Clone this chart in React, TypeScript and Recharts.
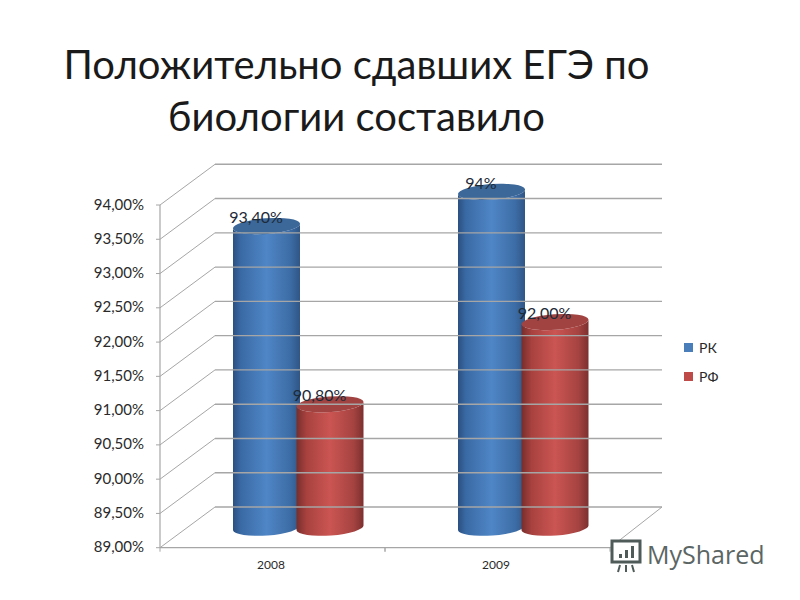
import { BarChart, Bar, XAxis, YAxis, Legend, LabelList } from 'recharts';

const FONT = 'Lato, "Open Sans", "Noto Sans", sans-serif';

const years = ['2008', '2009'];
const rkValues = [93.4, 93.9];
const rfValues = [90.8, 92];
const rkLabels = ['93,40%', '94%'];
const rfLabels = ['90,80%', '92,00%'];
const yTicks = [89, 89.5, 90, 90.5, 91, 91.5, 92, 92.5, 93, 93.5, 94];

const data = years.map((year, i) => ({
  year,
  rk: rkValues[i],
  rf: rfValues[i],
  rkLabel: rkLabels[i],
  rfLabel: rfLabels[i],
}));

// the fake 3D box: how far the back wall sits from the front axes
const DEPTH_X = 55;
const DEPTH_Y = 40.7;
const GRID = '#a6a6a6';
const AXIS_X = 160;
const AXIS_Y = 547.7;
const BAND = 225;

const formatTick = (v: number) => v.toFixed(2).replace('.', ',') + '%';

const YTick = ({ y, payload }: any) => (
  <g>
    <line x1={AXIS_X} y1={y} x2={AXIS_X + DEPTH_X} y2={y - DEPTH_Y} stroke={GRID} strokeWidth={1} />
    <line x1={AXIS_X + DEPTH_X} y1={y - DEPTH_Y} x2={662} y2={y - DEPTH_Y} stroke={GRID} strokeWidth={1.4} />
    <line x1={AXIS_X - 4} y1={y} x2={AXIS_X} y2={y} stroke={GRID} />
    <text x={144} y={y + 4.5} textAnchor="end" fontSize={15} fontFamily={FONT} fill="#2a2a2a">
      {formatTick(payload.value)}
    </text>
  </g>
);

const XTick = ({ payload, index }: any) => {
  const cx = payload.coordinate;
  return (
    <g>
      <line x1={cx - BAND / 2} y1={AXIS_Y} x2={cx - BAND / 2} y2={AXIS_Y + 4} stroke={GRID} />
      <line x1={cx + BAND / 2} y1={AXIS_Y} x2={cx + BAND / 2} y2={AXIS_Y + 4} stroke={GRID} />
      {index === years.length - 1 && (
        <line x1={cx + BAND / 2} y1={AXIS_Y} x2={662} y2={AXIS_Y - DEPTH_Y} stroke={GRID} />
      )}
      <text x={cx - 1.5} y={568.5} textAnchor="middle" fontSize={12} fontFamily={FONT} fill="#2a2a2a">
        {payload.value}
      </text>
    </g>
  );
};

const Cylinder = ({ x, y, width, height, gradient, topColor }: any) => {
  const left = x + 26;
  const right = left + width;
  const rx = width / 2;
  const ry = 7.8;
  const tilt = 2.5;
  const top = y - 20;
  const bottom = y + height - 20;
  const rot = -4;
  const body =
    `M${left},${top + tilt} L${left},${bottom + tilt} ` +
    `A${rx},${ry} ${rot} 0 0 ${right},${bottom - tilt} ` +
    `L${right},${top - tilt} A${rx},${ry} ${rot} 0 1 ${left},${top + tilt} Z`;
  const cap =
    `M${left},${top + tilt} A${rx},${ry} ${rot} 1 1 ${right},${top - tilt} ` +
    `A${rx},${ry} ${rot} 1 1 ${left},${top + tilt} Z`;
  return (
    <g>
      <path d={body} fill={`url(#${gradient})`} />
      <path d={cap} fill={topColor} />
    </g>
  );
};

const BarLabel = ({ x, y, value }: any) => (
  <text x={x + 49} y={y - 23} textAnchor="middle" fontSize={16} fontFamily={FONT} fill="#1d2a38">
    {value}
  </text>
);

const LegendBox = () => (
  <div style={{ fontFamily: FONT, fontSize: 14, color: '#2a2a2a' }}>
    {[
      { name: 'РК', color: '#4a7ebb' },
      { name: 'РФ', color: '#be4b48' },
    ].map((item) => (
      <div key={item.name} style={{ display: 'flex', alignItems: 'center', height: 29 }}>
        <div style={{ width: 9, height: 9, marginRight: 6, backgroundColor: item.color }}></div>
        <span>{item.name}</span>
      </div>
    ))}
  </div>
);

const App = () => {
  return (
    <div style={{ position: 'absolute', left: 0, top: 0, width: 800, height: 600, background: '#fff', overflow: 'hidden' }}>
      <div
        style={{
          position: 'absolute',
          left: 0,
          width: 713,
          top: 38,
          textAlign: 'center',
          fontFamily: FONT,
          fontSize: 40,
          lineHeight: '52px',
          color: '#1a1a1a',
        }}
      >
        Положительно сдавших ЕГЭ по
        <br />
        биологии составило
      </div>
      <BarChart
        width={800}
        height={600}
        data={data}
        barSize={67}
        barGap={-3.5}
        margin={{ top: 205, right: 190, bottom: 0, left: 0 }}
      >
        <defs>
          <linearGradient id="blueBody" x1="0" y1="0" x2="1" y2="0">
            <stop offset="0" stopColor="#2b5080" />
            <stop offset="0.12" stopColor="#3a6aa5" />
            <stop offset="0.5" stopColor="#4f86c6" />
            <stop offset="0.85" stopColor="#3d6da6" />
            <stop offset="1" stopColor="#2f5686" />
          </linearGradient>
          <linearGradient id="redBody" x1="0" y1="0" x2="1" y2="0">
            <stop offset="0" stopColor="#772e2c" />
            <stop offset="0.15" stopColor="#a8423f" />
            <stop offset="0.5" stopColor="#cb5552" />
            <stop offset="0.85" stopColor="#a54341" />
            <stop offset="1" stopColor="#7c302e" />
          </linearGradient>
        </defs>
        <XAxis
          dataKey="year"
          height={52.3}
          tickLine={false}
          axisLine={{ stroke: GRID, strokeWidth: 1.2 }}
          tick={<XTick />}
          interval={0}
        />
        <YAxis
          width={160}
          domain={[89, 94]}
          ticks={yTicks}
          interval={0}
          tickLine={false}
          axisLine={{ stroke: GRID, strokeWidth: 1.2 }}
          tick={<YTick />}
        />
        <Legend
          layout="vertical"
          align="center"
          verticalAlign="middle"
          content={<LegendBox />}
          wrapperStyle={{ left: 684, top: 333, width: 80 }}
        />
        <Bar
          dataKey="rk"
          name="РК"
          fill="#4a7ebb"
          isAnimationActive={false}
          shape={(props: any) => <Cylinder {...props} gradient="blueBody" topColor="#3b6799" />}
        >
          <LabelList dataKey="rkLabel" content={<BarLabel />} />
        </Bar>
        <Bar
          dataKey="rf"
          name="РФ"
          fill="#be4b48"
          isAnimationActive={false}
          shape={(props: any) => <Cylinder {...props} gradient="redBody" topColor="#a04341" />}
        >
          <LabelList dataKey="rfLabel" content={<BarLabel />} />
        </Bar>
      </BarChart>
      <div
        style={{
          position: 'absolute',
          left: 647,
          top: 537,
          fontFamily: '"Open Sans", sans-serif',
          fontSize: 25,
          color: '#5b6664',
        }}
      >
        MyShared
      </div>
      <svg width={36} height={36} style={{ position: 'absolute', left: 608, top: 538 }}>
        <rect x={4} y={3} width={28} height={21} fill="#fff" stroke="#4f5b59" strokeWidth={3} />
        <rect x={11} y={16} width={3} height={4} fill="#4f5b59" />
        <rect x={17} y={12} width={3} height={8} fill="#4f5b59" />
        <rect x={23} y={8} width={3} height={12} fill="#4f5b59" />
        <path d="M12,27 L10,34 M18,27 L18,34 M24,27 L26,34" stroke="#4f5b59" strokeWidth={2} />
      </svg>
    </div>
  );
};

export default App;
